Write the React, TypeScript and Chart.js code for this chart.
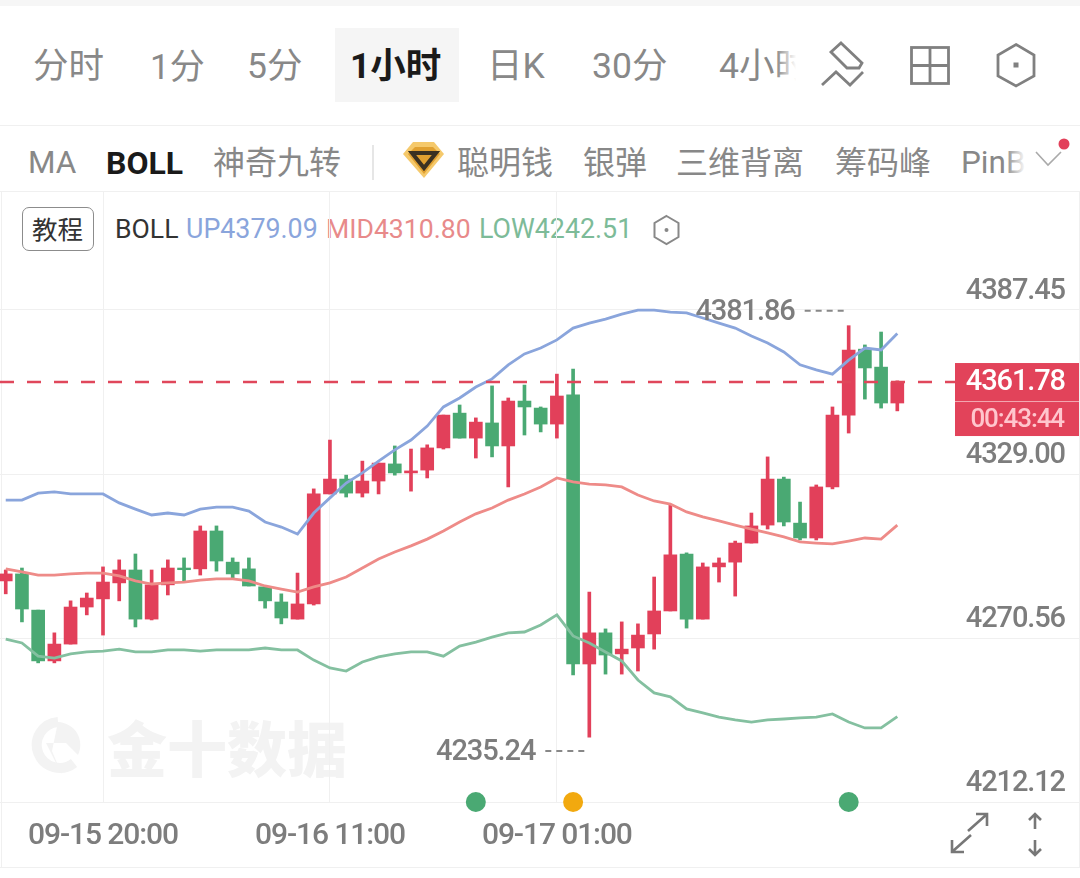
import React, { useEffect, useRef } from "react";
import { Chart, registerables } from "chart.js";

Chart.register(...registerables);

const opens = [4290.9,4293.4,4280.5,4262.4,4268.4,4281.6,4284.5,4290.2,4294.8,4277.3,4289.5,4295.5,4295.2,4308.7,4297.6,4295.2,4288.8,4283.4,4277.3,4282.7,4321.9,4327.2,4322.2,4326.5,4332.6,4329.4,4330.4,4338.3,4350.7,4341.8,4347.2,4339.0,4355.0,4352.5,4346.8,4357.2,4261.3,4272.4,4264.9,4267.0,4272.0,4280.2,4300.5,4277.3,4295.9,4297.6,4304.4,4310.8,4327.2,4311.5,4306.2,4324.4,4350.0,4373.5,4367.1,4354.3];
const closes = [4293.4,4280.9,4262.4,4268.4,4281.6,4284.8,4290.5,4294.8,4277.3,4289.5,4295.5,4294.9,4308.7,4298.0,4293.4,4289.1,4283.8,4277.7,4282.7,4321.9,4327.2,4322.2,4326.5,4332.9,4329.4,4330.1,4338.3,4350.0,4341.8,4347.5,4339.0,4355.0,4352.9,4346.8,4356.8,4261.3,4272.4,4264.5,4266.6,4271.6,4280.2,4300.2,4277.3,4295.9,4297.3,4304.4,4310.5,4327.2,4311.9,4306.2,4324.4,4350.0,4373.2,4366.8,4354.3,4361.78];
const highs = [4294.8,4295.5,4280.5,4272.4,4283.8,4286.6,4295.9,4298.4,4300.5,4294.8,4298.4,4299.1,4310.5,4310.5,4299.1,4299.1,4288.8,4286.3,4293.7,4323.7,4341.1,4328.6,4333.6,4332.9,4339.0,4337.9,4339.4,4350.0,4353.6,4349.0,4360.4,4356.1,4360.7,4352.9,4364.6,4366.4,4286.9,4273.8,4276.3,4275.6,4292.3,4317.9,4300.9,4297.3,4299.1,4305.1,4315.1,4335.1,4327.9,4319.0,4325.1,4352.9,4381.86,4375.0,4379.6,4362.2];
const lows = [4286.3,4276.3,4261.7,4261.7,4268.4,4278.8,4271.6,4283.8,4274.5,4277.0,4285.9,4290.9,4293.0,4294.4,4291.9,4289.1,4281.2,4275.6,4277.3,4282.3,4321.9,4320.8,4320.8,4321.9,4328.6,4322.9,4327.6,4337.9,4341.8,4334.7,4335.1,4324.4,4342.9,4344.0,4341.8,4257.4,4235.24,4257.7,4257.7,4258.8,4266.6,4280.2,4274.1,4277.3,4290.5,4285.5,4304.4,4309.4,4310.5,4305.5,4305.5,4323.7,4343.6,4355.7,4352.5,4351.5];
const bollUp = [4319.7,4319.7,4322.2,4322.6,4321.9,4321.9,4321.9,4318.7,4316.5,4314.4,4315.1,4314.4,4316.5,4317.2,4317.2,4315.8,4311.9,4310.1,4307.6,4315.1,4320.5,4325.8,4329.4,4333.6,4337.6,4341.1,4346.1,4352.9,4356.1,4360.0,4362.9,4367.9,4371.8,4373.9,4376.8,4381.0,4382.8,4384.2,4386.0,4387.4,4387.4,4386.7,4386.4,4384.6,4382.8,4381.0,4378.2,4375.7,4372.5,4367.9,4366.1,4364.6,4369.6,4373.9,4373.2,4379.09];
const bollMid = [4295.2,4294.1,4293.0,4293.0,4293.4,4293.7,4293.7,4292.7,4290.9,4289.8,4290.2,4290.5,4291.2,4291.6,4291.6,4290.9,4289.1,4288.0,4286.9,4288.8,4290.2,4292.3,4295.5,4298.7,4301.2,4303.4,4305.8,4308.7,4311.9,4314.8,4316.9,4319.7,4321.9,4324.4,4327.6,4326.2,4325.4,4325.1,4324.4,4321.5,4319.4,4318.3,4315.5,4313.7,4312.3,4310.8,4309.4,4308.0,4306.6,4304.8,4304.4,4304.1,4305.1,4306.2,4305.8,4310.80];
const bollLow = [4270.2,4268.8,4264.1,4263.4,4264.9,4265.6,4265.9,4266.6,4265.6,4265.6,4266.3,4266.3,4265.9,4266.3,4266.3,4266.3,4267.0,4266.3,4266.3,4262.7,4259.9,4258.8,4262.0,4263.8,4264.9,4265.6,4265.6,4264.1,4267.7,4269.1,4270.9,4272.4,4272.7,4275.2,4278.8,4271.3,4268.8,4265.6,4262.4,4255.6,4251.0,4249.6,4245.3,4243.9,4242.4,4241.4,4240.6,4241.4,4241.7,4242.1,4242.4,4243.5,4240.6,4238.5,4238.5,4242.51];

const yTicks = [4387.45, 4329.0, 4270.56, 4212.12];
const xTickIndex = [6, 20, 34];
const xTickLabels = ["09-15 20:00", "09-16 11:00", "09-17 01:00"];
const eventIndex = [29, 35, 52];
const eventColors = ["#4aa973", "#f2a90f", "#4aa973"];
const lastPrice = 4361.78;
const countdown = "00:43:44";

const RED = "#e2405a";
const GREEN = "#4aa973";
const AXIS_GREY = "#7d7d7d";
const NUM_FONT = "500 29px Roboto";
const X_MIN = -0.354;
const X_MAX = 66.27;

const candleColors = opens.map((o, i) => (closes[i] >= o ? RED : GREEN));
const xy = (arr: number[]) => arr.map((y, x) => ({ x, y }));

const chartPlugin = {
  id: "quote",
  beforeDraw(chart: any) {
    chart.ctx.letterSpacing = "-1.1px";
  },
  afterDatasetsDraw(chart: any) {
    const { ctx, scales } = chart;
    const x = scales.x;
    const y = scales.y;
    ctx.save();
    ctx.font = NUM_FONT;
    ctx.textBaseline = "middle";

    const hi = Math.max(...highs);
    const lo = Math.min(...lows);
    const marks = [
      { v: hi, i: highs.indexOf(hi), dy: -15 },
      { v: lo, i: lows.indexOf(lo), dy: 14 },
    ];
    marks.forEach((m) => {
      const px = x.getPixelForValue(m.i);
      const py = y.getPixelForValue(m.v) + m.dy;
      ctx.fillStyle = AXIS_GREY;
      ctx.textAlign = "right";
      ctx.fillText(m.v.toFixed(2), px - 54, py + 2);
      ctx.strokeStyle = "#888888";
      ctx.lineWidth = 2;
      ctx.setLineDash([6, 5]);
      ctx.beginPath();
      ctx.moveTo(px - 44, py);
      ctx.lineTo(px - 3, py);
      ctx.stroke();
      ctx.setLineDash([]);
    });

    const py = y.getPixelForValue(lastPrice);
    ctx.fillStyle = "#e2435a";
    ctx.fillRect(955, py - 19, 124, 73);
    ctx.fillStyle = "#f3a9b2";
    ctx.fillRect(955, py + 19, 124, 1);
    ctx.textAlign = "right";
    ctx.fillStyle = "#ffffff";
    ctx.fillText(lastPrice.toFixed(2), 1065, py + 1);
    ctx.font = "500 26px Roboto";
    ctx.fillStyle = "#ffc6cd";
    ctx.fillText(countdown, 1064, py + 38);
    ctx.restore();
  },
};

const CN = '"Noto Sans CJK SC", sans-serif';
const MIX = 'Roboto, "Noto Sans CJK SC", sans-serif';

function T({ x, y, size, color = "#888888", weight = 400, family = MIX, children }: any) {
  return (
    <span
      style={{
        position: "absolute",
        left: x,
        top: y,
        transform: "translateY(-50%)",
        fontSize: size,
        lineHeight: 1,
        color,
        fontWeight: weight,
        fontFamily: family,
        whiteSpace: "nowrap",
      }}
    >
      {children}
    </span>
  );
}

function Box({ x, y, w, h, bg }: any) {
  return <div style={{ position: "absolute", left: x, top: y, width: w, height: h, background: bg }} />;
}

export default function App() {
  const ref = useRef<HTMLCanvasElement | null>(null);

  useEffect(() => {
    if (!ref.current) return;
    const chart = new Chart(ref.current, {
      type: "bar",
      data: {
        datasets: [
          {
            type: "line",
            label: "events",
            data: eventIndex.map((i) => ({ x: i, y: yTicks[3] })),
            showLine: false,
            pointRadius: 10,
            pointHoverRadius: 10,
            pointBorderWidth: 0,
            pointBackgroundColor: eventColors,
            clip: false,
            order: 1,
          },
          {
            type: "line",
            label: "last",
            data: [
              { x: X_MIN, y: lastPrice },
              { x: X_MAX, y: lastPrice },
            ],
            borderColor: "#e0475b",
            borderWidth: 2.4,
            borderDash: [14, 13],
            pointRadius: 0,
            order: 2,
          },
          { type: "line", label: "UP", data: xy(bollUp), borderColor: "#8aa5dc", borderWidth: 2.8, pointRadius: 0, tension: 0, order: 3 },
          { type: "line", label: "MID", data: xy(bollMid), borderColor: "#ee8b88", borderWidth: 2.8, pointRadius: 0, tension: 0, order: 3 },
          { type: "line", label: "LOW", data: xy(bollLow), borderColor: "#84c0a0", borderWidth: 2.8, pointRadius: 0, tension: 0, order: 3 },
          {
            type: "bar",
            label: "body",
            data: opens.map((o, i) => ({ x: i, y: [o, closes[i]] })),
            backgroundColor: candleColors,
            barThickness: 13,
            grouped: false,
            order: 4,
          },
          {
            type: "bar",
            label: "wick",
            data: lows.map((l, i) => ({ x: i, y: [l, highs[i]] })),
            backgroundColor: candleColors,
            barThickness: 3,
            grouped: false,
            order: 5,
          },
        ],
      } as any,
      options: {
        animation: false,
        responsive: false,
        maintainAspectRatio: false,
        events: [],
        layout: { autoPadding: false, padding: { top: 192, left: 0, right: 0, bottom: 0 } },
        plugins: { legend: { display: false }, tooltip: { enabled: false }, title: { display: false } },
        scales: {
          x: {
            type: "linear",
            min: X_MIN,
            max: X_MAX,
            offset: false,
            position: "bottom",
            border: { display: false },
            grid: { color: "#f0f0f0", lineWidth: 1, drawTicks: false, offset: false },
            afterBuildTicks: (s: any) => {
              s.ticks = xTickIndex.map((value) => ({ value }));
            },
            afterFit: (s: any) => {
              s.height = 76;
            },
            ticks: {
              autoSkip: false,
              maxRotation: 0,
              padding: 16,
              color: AXIS_GREY,
              font: { family: "Roboto", size: 30, weight: "500" },
              callback: (v: any) => xTickLabels[xTickIndex.indexOf(Number(v))] ?? "",
            },
          },
          y: {
            type: "linear",
            min: 4212.12,
            max: 4429.5,
            position: "right",
            border: { display: false },
            grid: { color: "#f0f0f0", lineWidth: 1, drawTicks: false },
            afterBuildTicks: (s: any) => {
              s.ticks = yTicks.map((value) => ({ value }));
            },
            afterFit: (s: any) => {
              s.width = 0;
            },
            ticks: {
              mirror: true,
              padding: -15,
              labelOffset: -18,
              color: AXIS_GREY,
              font: { family: "Roboto", size: 29, weight: "500" },
              callback: (v: any) => Number(v).toFixed(2),
            },
          },
        },
      } as any,
      plugins: [chartPlugin as any],
    });
    return () => chart.destroy();
  }, []);

  return (
    <div style={{ position: "fixed", left: 0, top: 0, width: 1080, height: 878, background: "#fff", overflow: "hidden" }}>
      <Box x={0} y={0} w={1080} h={6} bg="#f6f6f6" />

      {/* period tabs */}
      <Box x={335} y={28} w={124} h={74} bg="#f5f5f5" />
      <T x={33} y={67} size={35.5}>分时</T>
      <T x={150} y={67} size={35}>1分</T>
      <T x={247} y={67} size={35.5}>5分</T>
      <T x={350} y={67} size={35.5} color="#1a1a1a" weight={700}>1小时</T>
      <T x={487} y={67} size={35.5}>日K</T>
      <T x={592} y={67} size={35.5}>30分</T>
      <T x={719} y={67} size={35.5}>4小时</T>
      <div style={{ position: "absolute", left: 776, top: 40, width: 44, height: 50, background: "linear-gradient(90deg, rgba(255,255,255,0) 0, #fff 46%)" }} />

      <svg width={1080} height={270} style={{ position: "absolute", left: 0, top: 0 }}>
        <g fill="none" stroke="#808080" strokeWidth={2.8}>
          <path d="M822 85 L836 72 L850 85 L863 72" />
          <path d="M841 43 L862 63 L859 68 L847 68 L831 52 Z" />
          <rect x={911.5} y={47.5} width={37} height={36} />
          <path d="M930 47 V84 M911 65.5 H949" />
          <path d="M1016 44.5 L1034 55 V76 L1016 86 L998 76 V55 Z" />
        </g>
        <rect x={1013.5} y={62.5} width={5} height={5} fill="#808080" />
        <path d="M666.5 216 L678.5 223 V237 L666.5 244 L654.5 237 V223 Z" fill="none" stroke="#888" strokeWidth={2} />
        <circle cx={666.5} cy={230} r={2} fill="#888" />
        <path d="M1036 152 L1048 165 L1061 152" fill="none" stroke="#aaaaaa" strokeWidth={1.6} />
        <circle cx={1064} cy={144} r={5.5} fill="#e2405a" />
        <path d="M413 142 H434 L444 154 L424 178 L403 154 Z" fill="#f5c96b" />
        <path d="M408 154 L424 174 L440 154 L433 147 H415 Z" fill="#e0a030" />
        <path d="M412 153 H436 L424 168 Z" fill="none" stroke="#3a3122" strokeWidth={4} />
      </svg>

      <Box x={0} y={125} w={1080} h={1} bg="#f0f0f0" />

      {/* indicator tabs */}
      <T x={28} y={163} size={31.5}>MA</T>
      <T x={106} y={163} size={32} color="#1a1a1a" weight={700}>BOLL</T>
      <T x={213} y={163} size={32}>神奇九转</T>
      <Box x={372} y={145} w={2} h={35} bg="#e6e6e6" />
      <T x={457} y={163} size={32}>聪明钱</T>
      <T x={583} y={163} size={32}>银弹</T>
      <T x={676} y={163} size={32}>三维背离</T>
      <T x={835} y={163} size={32}>筹码峰</T>
      <T x={961} y={163} size={31.5}>PinB</T>
      <div style={{ position: "absolute", left: 1005, top: 142, width: 29, height: 40, background: "linear-gradient(90deg, rgba(255,255,255,0) 0, #fff 72%)" }} />

      <Box x={0} y={191} w={1080} h={1} bg="#f0f0f0" />
      <Box x={0.5} y={191} w={1} h={677} bg="#f0f0f0" />
      <Box x={1078.5} y={191} w={1} h={677} bg="#f0f0f0" />

      {/* legend */}
      <div style={{ position: "absolute", left: 22, top: 207, width: 70, height: 42, border: "1.5px solid #8c8c8c", borderRadius: 7 }} />
      <T x={32} y={228} size={25.5} color="#333333" family={CN}>教程</T>
      <T x={115} y={229} size={26.6} color="#333333">BOLL</T>
      <T x={186} y={229} size={26.8} color="#8aa5dc">UP4379.09</T>
      <T x={326} y={229} size={26.6} color="#e88a8a">MID4310.80</T>
      <T x={479} y={229} size={26.8} color="#7dbb98">LOW4242.51</T>

      {/* watermark */}
      <svg width={80} height={80} style={{ position: "absolute", left: 16, top: 705 }}>
        <path d="M42 17 A23 23 0 1 0 58 58" fill="none" stroke="#f3f3f3" strokeWidth={10} />
        <path d="M42 17 A23 23 0 0 1 62 50 L50 38 L30 38 L46 70 L36 46 Z" fill="#f3f3f3" />
      </svg>
      <T x={107} y={746} size={60} color="#f3f3f3" weight={900} family={CN}>金十数据</T>

      <canvas ref={ref} width={1080} height={878} style={{ position: "absolute", left: 0, top: 0, width: 1080, height: 878 }} />

      <Box x={0} y={866.5} w={1080} h={1.5} bg="#f0f0f0" />
      <svg width={140} height={70} style={{ position: "absolute", left: 940, top: 805 }}>
        <g fill="none" stroke="#777777" strokeWidth={2.6}>
          <path d="M28 26 L46 10 M36 9 H47 V21" />
          <path d="M31 30 L13 46 M12 35 V47 H24" />
          <path d="M95 9 V24 M89 15 L95 9 L101 15" />
          <path d="M95 35 V50 M89 44 L95 50 L101 44" />
        </g>
      </svg>
    </div>
  );
}
